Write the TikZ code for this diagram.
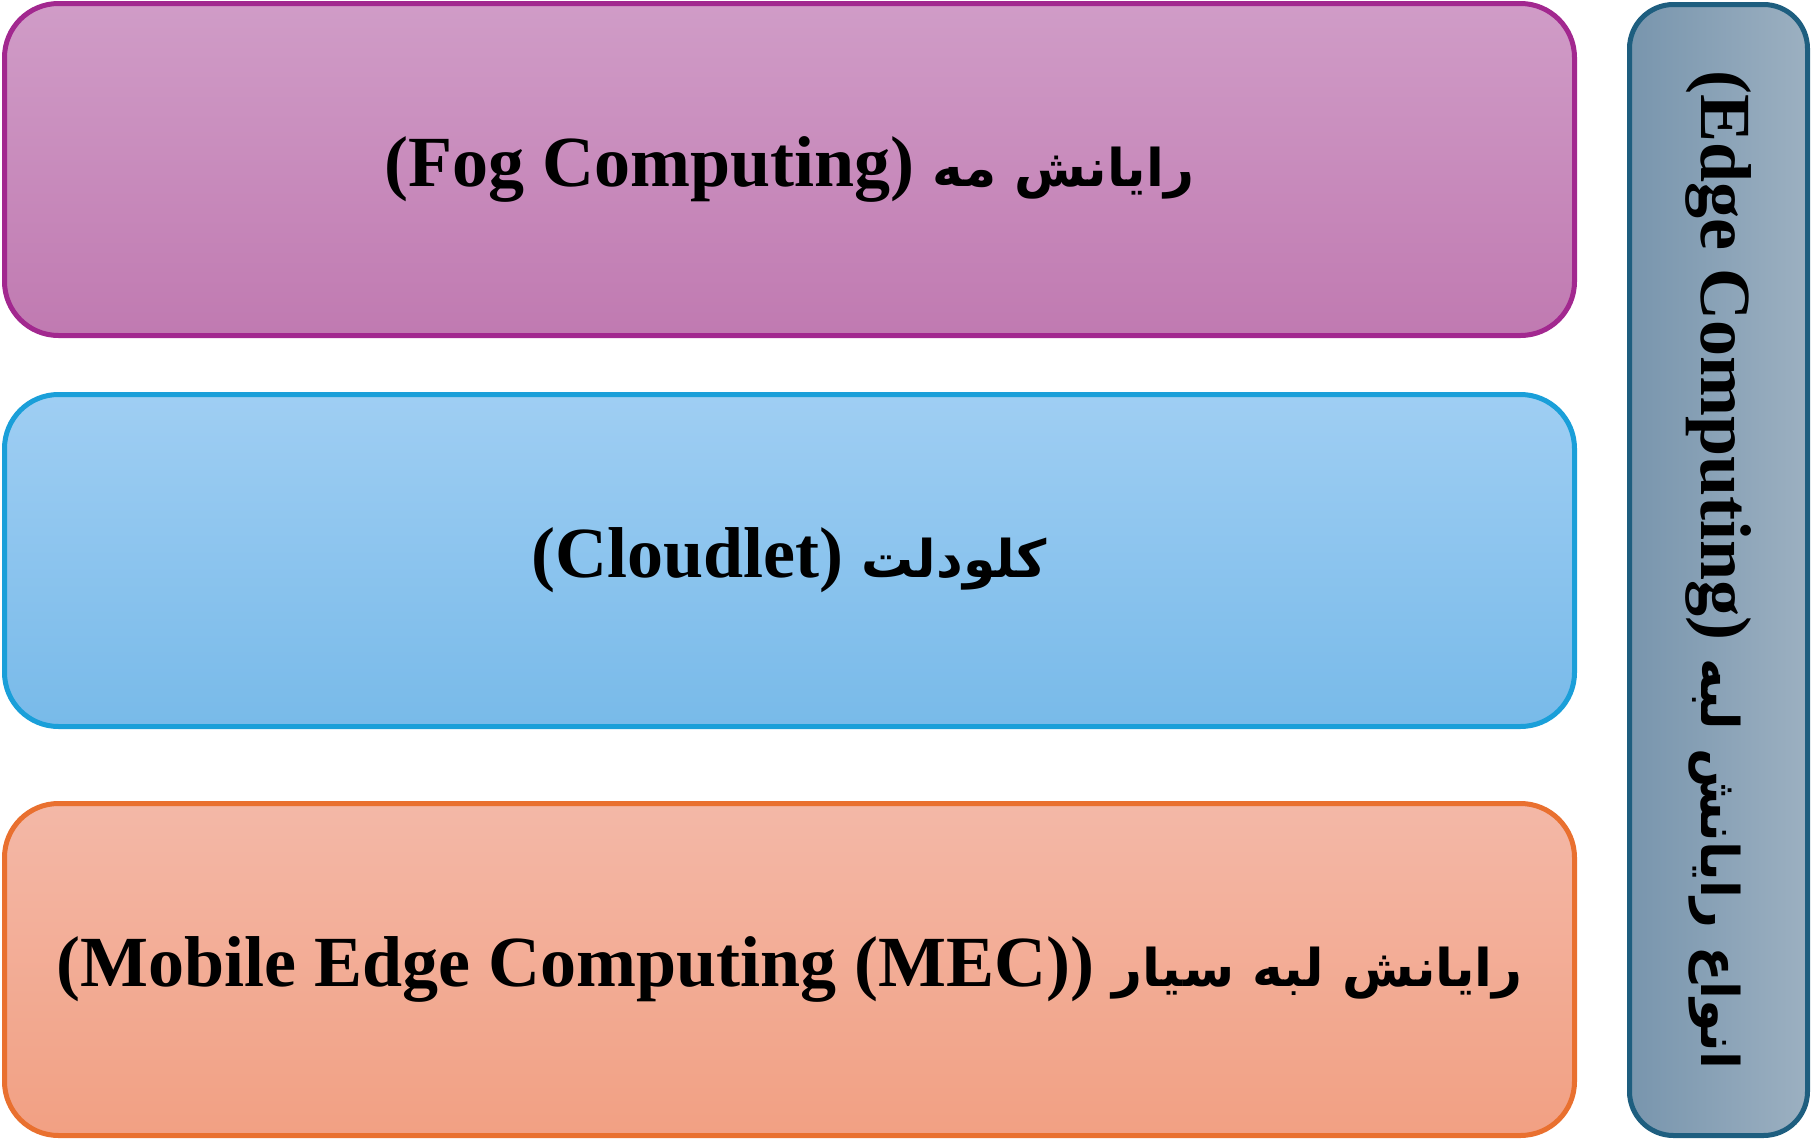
\documentclass[tikz,border=0pt]{standalone}
\usepackage{fontspec}
\setmainfont{Liberation Serif}
\newfontfamily\arabicfont[Script=Arabic]{DejaVu Sans}
\TeXXeTstate=1
\usetikzlibrary{positioning}

\definecolor{fogtop}{HTML}{D09CC7}
\definecolor{fogbot}{HTML}{C07AB1}
\definecolor{fogline}{HTML}{A2288F}
\definecolor{cloudtop}{HTML}{9FCEF3}
\definecolor{cloudbot}{HTML}{78BAE9}
\definecolor{cloudline}{HTML}{1A9FD9}
\definecolor{mectop}{HTML}{F3B8A7}
\definecolor{mecbot}{HTML}{F2A083}
\definecolor{mecline}{HTML}{E9702F}
\definecolor{edgeleft}{HTML}{7895AD}
\definecolor{edgeright}{HTML}{9CB0C1}
\definecolor{edgeline}{HTML}{1E5E7F}

% Persian words, set smaller than the Latin ones
\newcommand{\fa}[1]{{\arabicfont\fontsize{26}{30}\selectfont #1}}

\begin{document}
\begin{tikzpicture}[x=0.5pt, y=-0.5pt,
    layer/.style={draw, line width=2.5pt, rounded corners=27pt,
        minimum width=785pt, minimum height=166pt, inner sep=4pt,
        font=\fontsize{36}{40}\selectfont\bfseries},
    edgebox/.style={draw=edgeline, line width=2.5pt, rounded corners=22pt,
        minimum width=565.5pt, minimum height=89pt, inner sep=4pt, rotate=-90,
        left color=edgeleft, right color=edgeright,
        font=\fontsize{36}{40}\selectfont\bfseries}]
        \useasboundingbox (0,0) rectangle (1812,1141);
        % Define the nodes
        \node[layer, draw=fogline, top color=fogtop, bottom color=fogbot] (fog) at (789.5,169.5)
            {\beginR\fa{رایانش مه} \beginL(Fog Computing)\endL\endR};
        \node[layer, draw=cloudline, top color=cloudtop, bottom color=cloudbot] (cloudlet) [below=27pt of fog]
            {\beginR\fa{کلودلت} \beginL(Cloudlet)\endL\endR};
        \node[layer, draw=mecline, top color=mectop, bottom color=mecbot] (mec) [below=36pt of cloudlet]
            {\beginR\fa{رایانش لبه سیار} \beginL(Mobile Edge Computing (MEC))\endL\endR};
        \node[edgebox] (edge) at (1718.5,570)
            {\beginR\fa{انواع رایانش لبه} \beginL(Edge Computing)\endL\endR};

    \end{tikzpicture}
\end{document}
